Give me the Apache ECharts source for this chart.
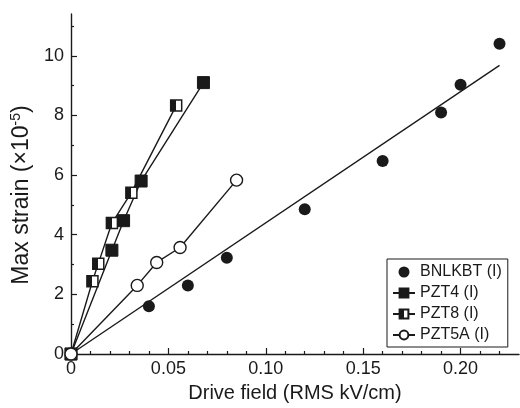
<!DOCTYPE html>
<html>
<head>
<meta charset="utf-8">
<script src="https://cdn.jsdelivr.net/npm/echarts@6/dist/echarts.min.js"></script>
<style>html,body{margin:0;padding:0;background:#fff;}#c{width:520px;height:408px;}</style>
</head>
<body>
<div id="c"></div>
<script>
// ---- data ----
const bnlkbtX = [0, 0.04, 0.06, 0.08, 0.12, 0.16, 0.19, 0.20, 0.22];
const bnlkbtY = [0, 1.6, 2.3, 3.23, 4.85, 6.47, 8.1, 9.03, 10.4];
const bnlkbtFitX = [0, 0.22];
const bnlkbtFitY = [0, 9.68];
const pzt4X = [0, 0.021, 0.027, 0.036, 0.068];
const pzt4Y = [0, 3.48, 4.47, 5.8, 9.1];
const pzt8X = [0, 0.011, 0.014, 0.021, 0.031, 0.054];
const pzt8Y = [0, 2.44, 3.03, 4.39, 5.41, 8.33];
const pzt5aX = [0, 0.034, 0.044, 0.056, 0.085];
const pzt5aY = [0, 2.3, 3.07, 3.57, 5.83];
const seriesNames = ['BNLKBT (I)', 'PZT4 (I)', 'PZT8 (I)', 'PZT5A (I)'];
const xMajorTicks = [0, 0.05, 0.10, 0.15, 0.20];
const xMinorTicks = [0.01, 0.02, 0.03, 0.04, 0.06, 0.07, 0.08, 0.09, 0.11, 0.12, 0.13, 0.14, 0.16, 0.17, 0.18, 0.19, 0.21, 0.22];
const yMajorTicks = [0, 2, 4, 6, 8, 10];
const yMinorTicks = [1, 3, 5, 7, 9, 11];
const xRange = [0, 0.23];
const yRange = [0, 11.4];

const zip = (xs, ys) => xs.map((x, i) => [x, ys[i]]);
const ink = '#1a1a1a';
const font = 'Liberation Sans, Arial, Helvetica, sans-serif';

const chart = echarts.init(document.getElementById('c'), null, {renderer: 'canvas'});
const baseX = {
  type: 'value', min: xRange[0], max: xRange[1], position: 'bottom',
  splitLine: {show: false}
};
const baseY = {
  type: 'value', min: yRange[0], max: yRange[1], position: 'left',
  splitLine: {show: false}
};
const halfFill = {
  type: 'linear', x: 0, y: 0, x2: 1, y2: 0,
  colorStops: [{offset: 0, color: ink}, {offset: 0.5, color: ink}, {offset: 0.5, color: '#fff'}, {offset: 1, color: '#fff'}]
};
chart.setOption({
  animation: false,
  backgroundColor: '#fff',
  grid: {left: 71, right: 1, top: 14, bottom: 53},
  legend: {
    data: seriesNames,
    orient: 'vertical', left: 387, top: 259,
    borderColor: ink, borderWidth: 1, borderRadius: 0,
    padding: [5, 6, 4, 5], itemGap: 5, itemWidth: 22, itemHeight: 11,
    textStyle: {fontFamily: font, fontSize: 16, color: ink}
  },
  xAxis: [
    Object.assign({}, baseX, {
      name: 'Drive field (RMS kV/cm)', nameLocation: 'middle', nameGap: 29,
      nameTextStyle: {fontFamily: font, fontSize: 20, color: ink},
      axisLine: {show: true, onZero: false, lineStyle: {color: ink, width: 1.4}},
      axisTick: {show: true, inside: true, length: 6, customValues: xMajorTicks, lineStyle: {color: ink, width: 1.2}},
      axisLabel: {show: true, customValues: xMajorTicks, margin: 6, fontFamily: font, fontSize: 18, color: ink,
        formatter: v => v === 0 ? '0' : v.toFixed(2)}
    }),
    Object.assign({}, baseX, {
      axisLine: {show: false},
      axisTick: {show: true, inside: true, length: 3, customValues: xMinorTicks, lineStyle: {color: ink, width: 1.2}},
      axisLabel: {show: false}
    })
  ],
  yAxis: [
    Object.assign({}, baseY, {
      name: 'Max strain (×10{sup|-5})', nameLocation: 'middle', nameGap: 33,
      nameTextStyle: {fontFamily: font, fontSize: 23, color: ink, padding: [0, 22, 0, 0],
        rich: {sup: {fontFamily: font, fontSize: 14, color: ink, verticalAlign: 'top', padding: [0, 0, 10, 0]}}},
      axisLine: {show: true, onZero: false, lineStyle: {color: ink, width: 1.4}},
      axisTick: {show: true, inside: true, length: 6, customValues: yMajorTicks, lineStyle: {color: ink, width: 1.2}},
      axisLabel: {show: true, customValues: yMajorTicks, margin: 7, fontFamily: font, fontSize: 18, color: ink}
    }),
    Object.assign({}, baseY, {
      axisLine: {show: false},
      axisTick: {show: true, inside: true, length: 3, customValues: yMinorTicks, lineStyle: {color: ink, width: 1.2}},
      axisLabel: {show: false}
    })
  ],
  series: [
    {
      name: 'BNLKBT fit', type: 'line', data: zip(bnlkbtFitX, bnlkbtFitY),
      symbol: 'none', lineStyle: {color: ink, width: 1.4}, silent: true, z: 2
    },
    {
      name: seriesNames[0], type: 'scatter', data: zip(bnlkbtX, bnlkbtY),
      symbol: 'circle', symbolSize: 12, itemStyle: {color: ink, opacity: 1}, z: 3
    },
    {
      name: seriesNames[1], type: 'line', data: zip(pzt4X, pzt4Y),
      symbol: 'rect', symbolSize: 12, showAllSymbol: true,
      lineStyle: {color: ink, width: 1.4}, itemStyle: {color: ink, borderColor: ink, borderWidth: 1}, z: 3
    },
    {
      name: seriesNames[2], type: 'line', data: zip(pzt8X, pzt8Y),
      symbol: 'rect', symbolSize: 11, showAllSymbol: true,
      lineStyle: {color: ink, width: 1.4}, itemStyle: {color: halfFill, borderColor: ink, borderWidth: 1.5}, z: 3
    },
    {
      name: seriesNames[3], type: 'line', data: zip(pzt5aX, pzt5aY),
      symbol: 'circle', symbolSize: 12, showAllSymbol: true,
      lineStyle: {color: ink, width: 1.4}, itemStyle: {color: '#fff', borderColor: ink, borderWidth: 1.4}, z: 3
    }
  ]
});
</script>
</body>
</html>
